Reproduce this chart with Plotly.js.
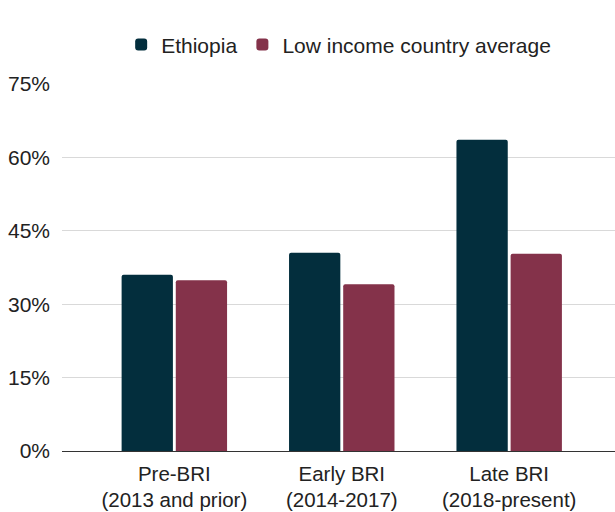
<!DOCTYPE html>
<html><head><meta charset="utf-8">
<script src="https://cdn.plot.ly/plotly-3.0.1.min.js"></script>
<style>html,body{margin:0;padding:0;background:#fff}#chart{width:615px;height:512px}</style>
</head><body><div id="chart"></div>
<script>
const categories = ["Pre-BRI<br>(2013 and prior)", "Early BRI<br>(2014-2017)", "Late BRI<br>(2018-present)"];
const ethiopia = [36, 40.5, 63.6];
const lowIncome = [34.9, 34.1, 40.3];
const tickVals = [0, 15, 30, 45, 60, 75];

const font = {family: "'Liberation Sans', Arial, sans-serif", size: 21, color: "#222222"};
const data = [
  {type: "bar", name: "Ethiopia", x: [0,1,2], y: ethiopia, marker: {color: "#032E3D"}, hoverinfo: "none"},
  {type: "bar", name: "Low income country average", x: [0,1,2], y: lowIncome, marker: {color: "#84324A"}, hoverinfo: "none"}
];
const layout = {
  width: 615, height: 512,
  margin: {l: 62, r: 0, t: 84, b: 61},
  font: font,
  paper_bgcolor: "#fff", plot_bgcolor: "#fff",
  barmode: "group", bargap: 0.353, bargroupgap: 0.053, barcornerradius: 2,
  showlegend: true,
  legend: {orientation: "h", x: 0.107, xanchor: "left", y: 1.107, yanchor: "middle", font: font, itemwidth: 30, traceorder: "normal"},
  xaxis: {range: [-0.671, 2.632], tickvals: [0,1,2], ticktext: categories, showgrid: false, zeroline: false,
          showline: true, linecolor: "#333333", linewidth: 1, ticks: "", fixedrange: true,
          tickfont: {family: font.family, size: 20.5, color: font.color}, ticklabelstandoff: 4},
  yaxis: {range: [0, 75], tickvals: tickVals, ticktext: tickVals.map(v => v + "%"), showgrid: true, gridcolor: "#d9d9d9", gridwidth: 1,
          zeroline: false, showline: false, ticks: "", ticklabelstandoff: 11, tickfont: font, fixedrange: true}
};
Plotly.newPlot("chart", data, layout, {displayModeBar: false, staticPlot: true});
</script></body></html>
